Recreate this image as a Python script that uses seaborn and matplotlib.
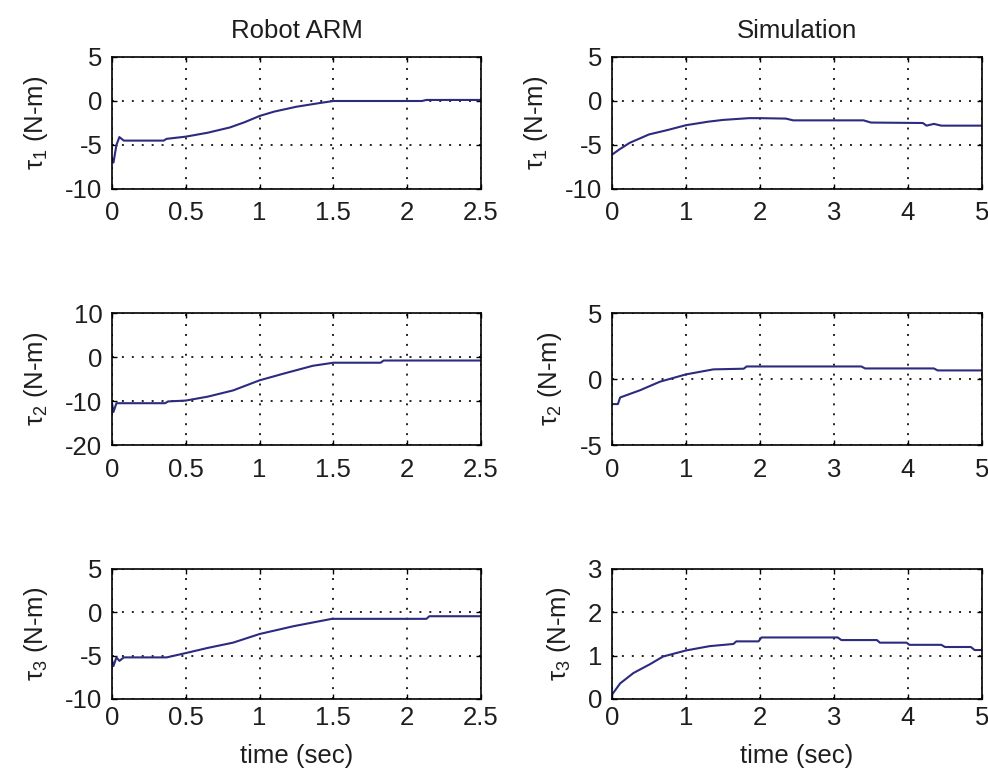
import numpy as np
import pandas as pd
import matplotlib
matplotlib.use("Agg")
import matplotlib.pyplot as plt
import seaborn as sns

# ---- joint torque traces: measured on the robot arm vs. simulated ----
arm_t1_time = [0, 0.01, 0.03, 0.05, 0.08, 0.35, 0.37, 0.5, 0.65, 0.8, 0.9, 1.0, 1.1, 1.25, 1.4, 1.5, 2.1, 2.13, 2.5]
arm_t1_val = [-6.5, -7.0, -5.0, -4.1, -4.5, -4.5, -4.3, -4.05, -3.6, -3.0, -2.4, -1.7, -1.2, -0.65, -0.25, 0.0, 0.0, 0.12, 0.12]

sim_t1_time = [0, 0.1, 0.24, 0.5, 0.75, 1.0, 1.3, 1.5, 1.85, 2.0, 2.35, 2.45, 3.4, 3.5, 4.2, 4.25, 4.35, 4.45, 5.0]
sim_t1_val = [-6.1, -5.5, -4.75, -3.8, -3.3, -2.75, -2.35, -2.15, -1.95, -1.95, -2.0, -2.2, -2.2, -2.45, -2.5, -2.8, -2.6, -2.8, -2.8]

arm_t2_time = [0, 0.01, 0.03, 0.06, 0.36, 0.38, 0.5, 0.65, 0.82, 1.0, 1.16, 1.36, 1.5, 1.82, 1.84, 2.5]
arm_t2_val = [-10.5, -12.5, -10.5, -10.5, -10.5, -10.1, -9.9, -9.0, -7.6, -5.3, -3.8, -2.0, -1.3, -1.3, -0.8, -0.8]

sim_t2_time = [0, 0.08, 0.11, 0.38, 0.65, 1.0, 1.37, 1.78, 1.82, 3.37, 3.42, 4.35, 4.4, 5.0]
sim_t2_val = [-1.9, -1.9, -1.4, -0.85, -0.2, 0.35, 0.73, 0.78, 0.95, 0.95, 0.8, 0.8, 0.65, 0.65]

arm_t3_time = [0, 0.01, 0.03, 0.05, 0.08, 0.37, 0.5, 0.65, 0.82, 1.0, 1.23, 1.49, 2.13, 2.15, 2.5]
arm_t3_val = [-5.5, -6.2, -5.2, -5.6, -5.2, -5.2, -4.7, -4.1, -3.5, -2.5, -1.6, -0.75, -0.75, -0.45, -0.45]

sim_t3_time = [0, 0.11, 0.29, 0.51, 0.69, 1.0, 1.32, 1.64, 1.68, 1.98, 2.02, 3.05, 3.1, 3.58, 3.62, 3.98, 4.02, 4.45, 4.5, 4.85, 4.9, 5.0]
sim_t3_val = [0.1, 0.36, 0.6, 0.8, 0.98, 1.12, 1.22, 1.27, 1.33, 1.33, 1.42, 1.42, 1.36, 1.36, 1.3, 1.3, 1.25, 1.25, 1.2, 1.2, 1.13, 1.13]

# axis ticks
arm_xticks = [0, 0.5, 1, 1.5, 2, 2.5]
arm_xticklabels = ["0", "0.5", "1", "1.5", "2", "2.5"]
sim_xticks = [0, 1, 2, 3, 4, 5]
sim_xticklabels = ["0", "1", "2", "3", "4", "5"]
yticks_t1 = [-10, -5, 0, 5]
yticks_t2_arm = [-20, -10, 0, 10]
yticks_t2_sim = [-5, 0, 5]
yticks_t3_arm = [-10, -5, 0, 5]
yticks_t3_sim = [0, 1, 2, 3]

column_titles = ["Robot ARM", "Simulation"]
ylabels = [r"$\tau_1$ (N-m)", r"$\tau_2$ (N-m)", r"$\tau_3$ (N-m)"]
xlabel = "time (sec)"

sns.set_style("white")
plt.rcParams["font.family"] = ["Liberation Sans", "DejaVu Sans"]
plt.rcParams["mathtext.fontset"] = "custom"
plt.rcParams["mathtext.rm"] = "Liberation Sans"
plt.rcParams["mathtext.it"] = "Liberation Sans"
plt.rcParams["mathtext.bf"] = "Liberation Sans:bold"
plt.rcParams["axes.unicode_minus"] = False

FS = 18.5
TEXT_COLOR = "#1e1e1e"
LINE_COLOR = "#2b2b80"

W, H = 988, 769
fig = plt.figure(figsize=(W / 100, H / 100), dpi=100)
fig.patch.set_facecolor("white")

col_px = [(112, 481), (612, 982)]
row_px = [(57, 189), (313, 445), (569, 699)]

panels = [
    [(arm_t1_time, arm_t1_val, yticks_t1), (sim_t1_time, sim_t1_val, yticks_t1)],
    [(arm_t2_time, arm_t2_val, yticks_t2_arm), (sim_t2_time, sim_t2_val, yticks_t2_sim)],
    [(arm_t3_time, arm_t3_val, yticks_t3_arm), (sim_t3_time, sim_t3_val, yticks_t3_sim)],
]

for r, (y0, y1) in enumerate(row_px):
    for c, (x0, x1) in enumerate(col_px):
        ax = fig.add_axes([x0 / W, 1 - y1 / H, (x1 - x0) / W, (y1 - y0) / H])
        t, v, yt = panels[r][c]
        df = pd.DataFrame({"t": t, "v": v})
        sns.lineplot(data=df, x="t", y="v", ax=ax, color=LINE_COLOR,
                     linewidth=1.5, estimator=None, sort=False)

        xt = arm_xticks if c == 0 else sim_xticks
        xtl = arm_xticklabels if c == 0 else sim_xticklabels
        ax.set_xlim(xt[0], xt[-1])
        ax.set_ylim(yt[0], yt[-1])
        ax.set_xticks(xt)
        ax.set_xticklabels(xtl)
        ax.set_yticks(yt)
        ax.set_yticklabels([str(y) for y in yt])

        ax.grid(True, color="#222222", linestyle=(0, (1, 4.1)), linewidth=1.4)
        ax.set_facecolor("white")
        for sp in ax.spines.values():
            sp.set_visible(True)
            sp.set_color("black")
            sp.set_linewidth(1.2)
        xpad = 5 if r == 2 else 9
        ax.tick_params(axis="x", direction="in", length=3.5, width=1,
                       top=True, bottom=True, labelsize=FS, pad=xpad,
                       colors="black", labelcolor=TEXT_COLOR)
        ax.tick_params(axis="y", direction="in", length=3.5, width=1,
                       left=True, right=True, labelsize=FS, pad=7,
                       colors="black", labelcolor=TEXT_COLOR)

        ax.set_ylabel(ylabels[r], fontsize=FS, labelpad=11, color=TEXT_COLOR)
        if r == 2:
            ax.set_xlabel(xlabel, fontsize=FS, labelpad=10, color=TEXT_COLOR)
        else:
            ax.set_xlabel("")
        if r == 0:
            ax.set_title(column_titles[c], fontsize=FS, pad=14, color=TEXT_COLOR)

fig.savefig("out.png", dpi=100, facecolor="white")
